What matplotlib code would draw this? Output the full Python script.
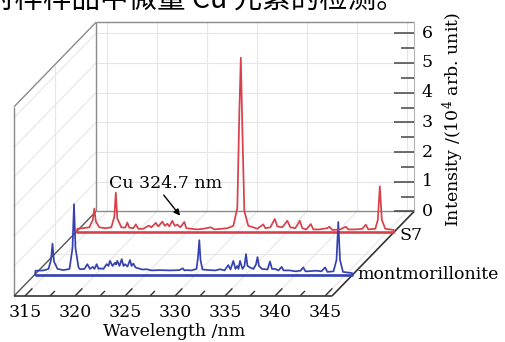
import matplotlib.pyplot as plt
import numpy as np

plt.rcParams['font.family'] = ['DejaVu Serif']
plt.rcParams['mathtext.fontset'] = 'dejavuserif'

# spectra: wavelength (nm), intensity (10^4 arb. unit)
s7_wl = [313.95, 314.0, 314.5, 315.2, 315.55, 315.7, 315.85, 316.2, 316.8, 317.4, 317.7, 317.85,
         318.0, 318.4, 318.8, 319.0, 319.2, 319.6, 319.85, 320.1, 320.6, 321.15, 321.4, 321.85,
         322.1, 322.5, 322.75, 323.0, 323.2, 323.5, 323.75, 324.0, 324.3, 324.7, 324.9, 325.4,
         326.0, 326.6, 327.35, 327.7, 328.4, 329.0, 329.6, 330.0, 330.2, 330.35, 330.5, 330.7,
         331.1, 331.6, 332.0, 332.6, 332.8, 333.3, 333.75, 334.0, 334.5, 335.0, 335.3, 335.8,
         336.25, 336.5, 336.9, 337.35, 337.6, 338.2, 339.0, 339.2, 339.5, 340.3, 340.85, 341.1,
         341.8, 342.5, 342.85, 343.1, 343.8, 344.05, 344.25, 344.45, 344.8, 345.65, 345.7]
s7_int = [0.0, 0.1, 0.12, 0.15, 0.4, 0.78, 0.35, 0.15, 0.12, 0.15, 0.5, 1.32,
          0.45, 0.15, 0.14, 0.31, 0.14, 0.12, 0.25, 0.1, 0.1, 0.21, 0.15, 0.3,
          0.18, 0.34, 0.2, 0.27, 0.18, 0.37, 0.2, 0.24, 0.15, 0.33, 0.12, 0.1,
          0.08, 0.1, 0.15, 0.08, 0.1, 0.12, 0.2, 0.8, 4.0, 5.86, 3.5, 0.7,
          0.2, 0.15, 0.1, 0.25, 0.12, 0.15, 0.43, 0.18, 0.15, 0.37, 0.15, 0.12,
          0.37, 0.12, 0.08, 0.26, 0.08, 0.08, 0.12, 0.17, 0.06, 0.08, 0.17, 0.08,
          0.08, 0.1, 0.24, 0.08, 0.1, 0.4, 1.53, 0.4, 0.1, 0.06, 0.0]

mont_wl = [313.95, 314.0, 314.8, 315.3, 315.55, 315.7, 315.85, 316.2, 316.8, 317.4, 317.7, 317.85,
           318.0, 318.3, 318.45, 318.9, 319.18, 319.45, 319.72, 319.9, 320.12, 320.3, 320.45, 320.8,
           321.12, 321.3, 321.45, 321.7, 321.95, 322.05, 322.18, 322.4, 322.62, 322.8, 322.95, 323.2,
           323.45, 323.6, 323.78, 324.0, 324.28, 324.7, 325.12, 325.6, 326.4, 327.4, 328.4, 328.72,
           328.9, 329.12, 329.6, 330.1, 330.25, 330.38, 330.5, 330.7, 331.45, 332.0, 332.45, 332.9,
           333.28, 333.5, 333.78, 334.0, 334.18, 334.3, 334.45, 334.7, 334.9, 335.05, 335.2, 335.45,
           335.8, 336.05, 336.2, 336.35, 336.65, 337.2, 337.45, 337.65, 337.95, 338.3, 338.62, 338.8,
           339.45, 339.95, 340.5, 340.78, 341.0, 341.25, 342.05, 342.6, 342.95, 343.2, 343.8, 344.1,
           344.28, 344.45, 344.75, 345.65, 345.7]
mont_int = [0.0, 0.14, 0.15, 0.2, 0.5, 1.05, 0.45, 0.2, 0.16, 0.2, 0.9, 2.38,
            0.9, 0.25, 0.19, 0.2, 0.36, 0.2, 0.27, 0.2, 0.36, 0.2, 0.22, 0.2,
            0.36, 0.3, 0.47, 0.3, 0.41, 0.35, 0.47, 0.3, 0.53, 0.3, 0.36, 0.28,
            0.5, 0.3, 0.38, 0.25, 0.22, 0.18, 0.19, 0.15, 0.16, 0.15, 0.16, 0.22,
            0.15, 0.16, 0.15, 0.2, 0.6, 1.17, 0.5, 0.18, 0.16, 0.15, 0.19, 0.15,
            0.33, 0.18, 0.47, 0.2, 0.3, 0.2, 0.47, 0.2, 0.3, 0.7, 0.3, 0.25,
            0.2, 0.35, 0.6, 0.3, 0.2, 0.18, 0.45, 0.2, 0.2, 0.15, 0.27, 0.15,
            0.15, 0.12, 0.14, 0.25, 0.12, 0.12, 0.14, 0.12, 0.25, 0.1, 0.12, 0.5,
            1.78, 0.5, 0.1, 0.06, 0.0]

wl_ticks = [315, 320, 325, 330, 335, 340, 345]
int_ticks = [0, 1, 2, 3, 4, 5, 6]

# oblique projection: depth 0 = front edge, 1 = back wall
DX, DY = 8.2, 2.845
WL0, WL1, ZMAX = 313.9, 345.7, 6.37
RED, BLUE = '#d8404a', '#3541b0'


def proj(wl, inten, depth):
    return np.asarray(wl, float) + depth * DX, np.asarray(inten, float) + depth * DY


def seg(ax, p, q, **kw):
    x0, y0 = proj(*p)
    x1, y1 = proj(*q)
    ax.plot([x0, x1], [y0, y1], solid_capstyle='butt', **kw)


fig = plt.figure(figsize=(5.05, 3.42), dpi=100)
ax = fig.add_axes([0, 0, 1, 1])
ax.set_xlim(312.5, 363.0)
ax.set_ylim(-1.549, 9.966)
ax.axis('off')

grid = dict(color='#e6e6e6', lw=0.8, zorder=1)
for w in wl_ticks:
    seg(ax, (w, 0, 1), (w, ZMAX, 1), **grid)
    seg(ax, (w, 0, 0), (w, 0, 1), **grid)
for v in int_ticks[1:]:
    seg(ax, (WL0, v, 1), (WL1, v, 1), **grid)
    seg(ax, (WL0, v, 0), (WL0, v, 1), **grid)
seg(ax, (WL0, 0, 0.5), (WL0, ZMAX, 0.5), **grid)
seg(ax, (WL0, 0, 0.5), (WL1, 0, 0.5), **grid)

frame = dict(color='#8a8a8a', lw=1.0, zorder=2)
seg(ax, (WL0, ZMAX, 1), (WL1, ZMAX, 1), **frame)
seg(ax, (WL0, 0, 1), (WL0, ZMAX, 1), **frame)
seg(ax, (WL0, 0, 1), (WL1, 0, 1), **frame)
seg(ax, (WL0, ZMAX, 0), (WL0, ZMAX, 1), **frame)
seg(ax, (WL0, 0, 0), (WL0, ZMAX, 0), **frame)
seg(ax, (WL1, 0, 1), (WL1, ZMAX, 1), color='#b5b5b5', lw=0.8, zorder=2)
seg(ax, (WL0, 0, 0), (WL0, 0, 1), color='#555555', lw=1.0, zorder=2)
seg(ax, (WL0, 0, 0), (WL1, 0, 0), color='#333333', lw=1.2, zorder=2)
seg(ax, (WL1, 0, 0), (WL1, 0, 1), color='#333333', lw=1.2, zorder=2)

# wavelength ticks on the front edge
for w in np.arange(315, 345.1, 2.5):
    seg(ax, (w, 0, 0), (w, 0, 0.09 if w % 5 == 0 else 0.06), color='#333333', lw=1.0, zorder=2)
for w in wl_ticks:
    x, y = proj(w, 0, 0)
    ax.text(x, y - 0.27, str(w), ha='center', va='top', fontsize=12.5)

# intensity ticks on the back wall
for v in np.arange(0, 6.01, 0.5):
    ln = 2.0 if v % 1 == 0 else 1.3
    seg(ax, (WL1 - ln, v, 1), (WL1, v, 1), color='#444444', lw=1.1, zorder=2)
for v in int_ticks:
    x, y = proj(WL1 + 0.75, v, 1)
    ax.text(x, y, str(v), ha='left', va='center', fontsize=12.5)

series = [(mont_wl, mont_int, 0.25, BLUE, 'montmorillonite', 0.0),
          (s7_wl, s7_int, 0.76, RED, 'S7', -0.13)]
for wl, inten, d, c, name, dy in series:
    seg(ax, (WL0, 0, d), (WL1, 0, d), color=c, lw=1.9, zorder=3)
    x, y = proj(wl, inten, d)
    ax.plot(x, y, color=c, lw=1.25, zorder=4)
    tx, ty = proj(WL1 + 0.5, dy, d)
    ax.text(tx, ty, name, ha='left', va='center', fontsize=12.5)

ax.annotate('', xy=proj(324.45, 0.47, 0.76), xytext=(328.7, 3.47),
            arrowprops=dict(arrowstyle='-|>', color='black', lw=1.0, mutation_scale=9), zorder=5)
ax.text(329.1, 3.80, 'Cu 324.7 nm', ha='center', va='center', fontsize=12.5, zorder=5)

ax.text(329.9, -1.18, 'Wavelength /nm', ha='center', va='center', fontsize=12.5)
ax.text(357.8, 5.93, r'Intensity /(10$^4$ arb. unit)', rotation=90,
        ha='center', va='center', fontsize=12.5)

# caption line of the page, cut by the top edge as in the source
ax.text(311.1, 9.966, '对样样品中微量 Cu 元素的检测。', ha='left', va='center', fontsize=20.5,
        family=['Noto Sans CJK SC', 'DejaVu Sans'])

fig.savefig('out.png', dpi=100)
